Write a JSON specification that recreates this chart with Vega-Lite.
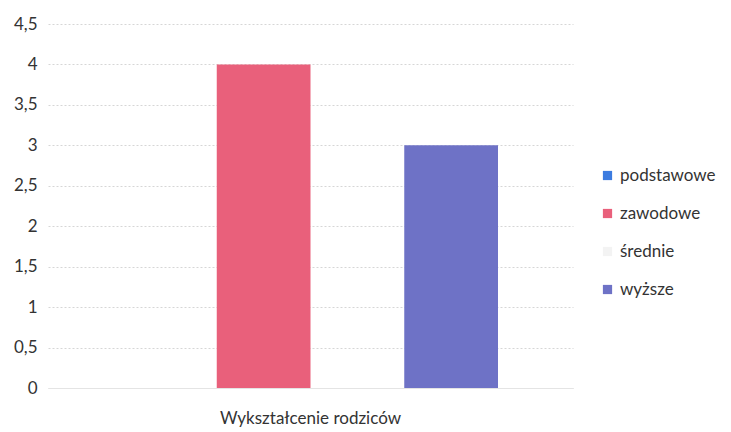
{
  "$schema": "https://vega.github.io/schema/vega-lite/v6.json",
  "width": 525,
  "height": 364,
  "autosize": {"type": "none"},
  "padding": {"left": 48, "top": 24, "right": 158, "bottom": 44},
  "background": "white",
  "config": {
    "locale": {"number": {"decimal": ",", "thousands": " ", "grouping": [3], "currency": ["", " zł"]}},
    "font": "Lato",
    "view": {"stroke": null}
  },
  "data": {
    "values": [
      {"kategoria": "Wykształcenie rodziców", "seria": "podstawowe", "wartosc": 0},
      {"kategoria": "Wykształcenie rodziców", "seria": "zawodowe", "wartosc": 4},
      {"kategoria": "Wykształcenie rodziców", "seria": "średnie", "wartosc": 0},
      {"kategoria": "Wykształcenie rodziców", "seria": "wyższe", "wartosc": 3}
    ]
  },
  "mark": {"type": "bar"},
  "encoding": {
    "x": {
      "field": "kategoria",
      "type": "nominal",
      "scale": {"paddingInner": 0, "paddingOuter": 0.2},
      "axis": {
        "title": null,
        "labelAngle": 0,
        "labelFontSize": 17,
        "labelLimit": 0,
        "labelColor": "#333333",
        "labelPadding": 22,
        "ticks": false,
        "domain": true,
        "domainColor": "#e4e4e4",
        "domainWidth": 1
      }
    },
    "xOffset": {
      "field": "seria",
      "type": "nominal",
      "sort": ["podstawowe", "zawodowe", "średnie", "wyższe"],
      "scale": {"paddingInner": 0, "paddingOuter": 0}
    },
    "y": {
      "field": "wartosc",
      "type": "quantitative",
      "scale": {"domain": [0, 4.5], "nice": false},
      "axis": {
        "title": null,
        "values": [0, 0.5, 1, 1.5, 2, 2.5, 3, 3.5, 4, 4.5],
        "format": "~g",
        "labelFontSize": 17,
        "labelColor": "#333333",
        "labelPadding": 11,
        "ticks": false,
        "domain": false,
        "grid": true,
        "gridColor": "#d6d6d6",
        "gridDash": [2, 2],
        "gridWidth": 1
      }
    },
    "color": {
      "field": "seria",
      "type": "nominal",
      "sort": ["podstawowe", "zawodowe", "średnie", "wyższe"],
      "scale": {
        "domain": ["podstawowe", "zawodowe", "średnie", "wyższe"],
        "range": ["#3b7be0", "#e9607b", "#f3f3f3", "#6e72c6"]
      },
      "legend": {
        "title": null,
        "orient": "none",
        "legendX": 551,
        "legendY": 143,
        "padding": 0,
        "symbolType": "square",
        "symbolSize": 85,
        "symbolStrokeWidth": 0,
        "symbolOpacity": 1,
        "labelFontSize": 17,
        "labelColor": "#333333",
        "labelOffset": 4,
        "rowPadding": 20
      }
    }
  }
}
